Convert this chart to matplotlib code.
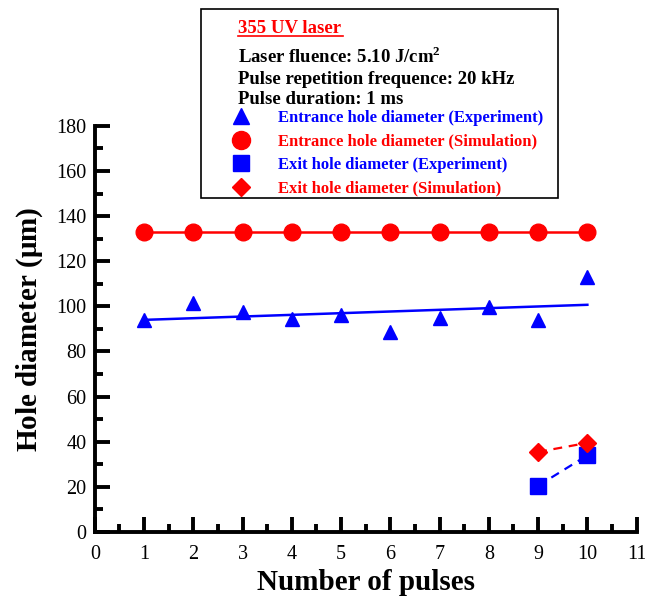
import numpy as np
import matplotlib
matplotlib.use("Agg")
import matplotlib.pyplot as plt
from matplotlib.lines import Line2D
from matplotlib.patches import Rectangle

plt.rcParams['font.family'] = ['Liberation Serif', 'DejaVu Serif']
plt.rcParams['mathtext.fontset'] = 'custom'
plt.rcParams['mathtext.rm'] = 'Liberation Serif'
plt.rcParams['mathtext.bf'] = 'Liberation Serif:bold'

# measured / simulated hole diameters (um)
pulses = [1, 2, 3, 4, 5, 6, 7, 8, 9, 10]
entrance_exp = [94, 101.5, 97.5, 94.5, 96, 88.5, 95, 99.5, 94, 113]
entrance_sim = [133, 133, 133, 133, 133, 133, 133, 133, 133, 133]
exit_pulses = [9, 10]
exit_exp = [20.5, 34]
exit_sim = [35.5, 39.5]

BLUE = '#0000ff'
RED = '#ff0000'

fig = plt.figure(figsize=(6.45, 6.0), dpi=100)
ax = fig.add_axes([0.147, 0.1133, 0.84, 0.677])

# linear trend through the entrance experiment points
coef = np.polyfit(pulses, entrance_exp, 1)
fit_x = np.array([pulses[0], pulses[-1]])
ax.plot(fit_x, np.polyval(coef, fit_x), color=BLUE, lw=1.8, zorder=2)
ax.plot(pulses, entrance_exp, ls='none', marker='^', ms=10, color=BLUE, zorder=3)

ax.plot(pulses, entrance_sim, color=RED, lw=1.8, marker='o', ms=12, zorder=3)

ax.plot(exit_pulses, exit_exp, color=BLUE, lw=1.6, ls=(0, (4, 3)),
        marker='s', ms=11, zorder=3)
ax.plot(exit_pulses, exit_sim, color=RED, lw=1.6, ls=(0, (4, 3)),
        marker='D', ms=9, zorder=3)

ax.set_xlim(0, 11)
ax.set_ylim(0, 180)
ax.set_xticks(range(0, 12))
ax.set_xticks(np.arange(0.5, 11, 1), minor=True)
ax.set_yticks(range(0, 181, 20))
ax.set_yticks(range(10, 180, 20), minor=True)
for side in ('top', 'right'):
    ax.spines[side].set_visible(False)
for side in ('left', 'bottom'):
    ax.spines[side].set_linewidth(2.8)
ax.tick_params(which='major', direction='in', length=11, width=2.8,
               labelsize=14.5)
ax.tick_params(axis='x', which='major', pad=9)
ax.tick_params(axis='y', which='major', pad=6)
ax.tick_params(which='minor', direction='in', length=6, width=2.8)

ax.set_xlabel('Number of pulses', fontsize=21, fontweight='bold', labelpad=4)
ax.set_ylabel(r'Hole diameter ($\mathbf{\mu}$m)', fontsize=21,
              fontweight='bold', labelpad=8)

# info box above the plot
fig.add_artist(Rectangle((201 / 645, 1 - 198 / 600), 357 / 645, 189 / 600,
                         transform=fig.transFigure, fill=True, fc='white',
                         ec='black', lw=1.2, zorder=5))
fig.text(238 / 645, 1 - 33 / 600, '355 UV laser', color=RED, fontsize=13.5,
         fontweight='bold', va='baseline', zorder=6)
fig.add_artist(Line2D([238 / 645, 343 / 645], [1 - 36 / 600, 1 - 36 / 600],
                      transform=fig.transFigure, color=RED, lw=1.2, zorder=6))
info_lines = [r'Laser fluence: 5.10 J/cm$^{\mathbf{2}}$',
              'Pulse repetition frequence: 20 kHz',
              'Pulse duration: 1 ms']
for i, line in enumerate(info_lines):
    fig.text(238 / 645, 1 - (63 + 20.5 * i) / 600, line, fontsize=13.5,
             fontweight='bold', va='baseline', zorder=6)

handles = [Line2D([], [], ls='none', marker='^', ms=11, color=BLUE),
           Line2D([], [], ls='none', marker='o', ms=13, color=RED),
           Line2D([], [], ls='none', marker='s', ms=12, color=BLUE),
           Line2D([], [], ls='none', marker='D', ms=9, color=RED)]
labels = ['Entrance hole diameter (Experiment)',
          'Entrance hole diameter (Simulation)',
          'Exit hole diameter (Experiment)',
          'Exit hole diameter (Simulation)']
leg = fig.legend(handles, labels, loc='upper left',
                 bbox_to_anchor=(226 / 645, 1 - 110 / 600),
                 frameon=False, prop={'size': 12, 'weight': 'bold'},
                 handlelength=1.8, handletextpad=1.35, labelspacing=0.45,
                 borderpad=0, borderaxespad=0,
                 labelcolor=[BLUE, RED, BLUE, RED])
leg.set_zorder(7)

fig.savefig('out.png', dpi=100)
